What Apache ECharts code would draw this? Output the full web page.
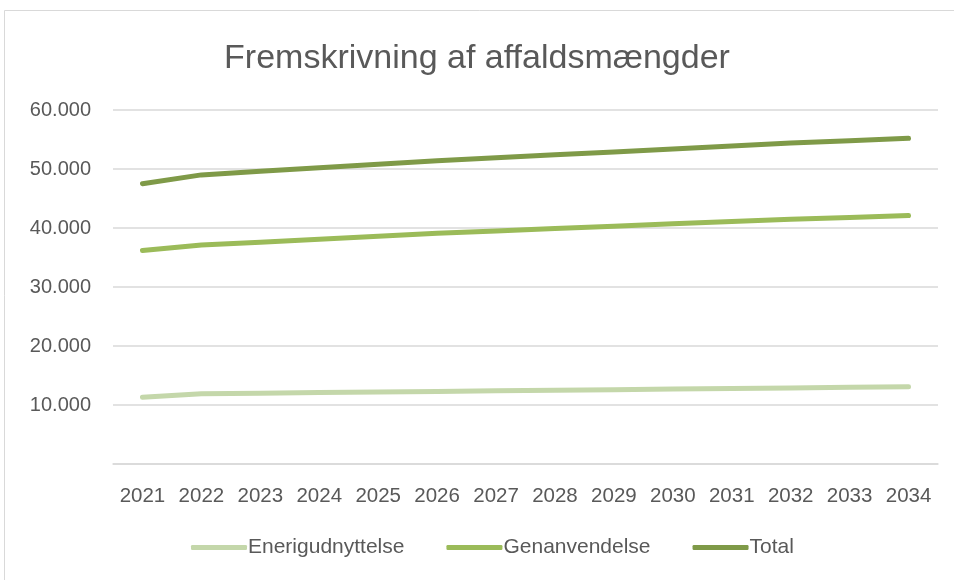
<!DOCTYPE html>
<html>
<head>
<meta charset="utf-8">
<script src="https://cdn.jsdelivr.net/npm/echarts@6/dist/echarts.min.js"></script>
<style>html,body{margin:0;padding:0;background:#fff}#c{width:954px;height:580px}</style>
</head>
<body>
<div id="c"></div>
<script>
const years = ['2021','2022','2023','2024','2025','2026','2027','2028','2029','2030','2031','2032','2033','2034'];
const energi = [11300, 11900, 12000, 12100, 12200, 12300, 12400, 12500, 12600, 12700, 12800, 12900, 13000, 13100];
const genanvendelse = [36200, 37100, 37600, 38100, 38600, 39100, 39500, 39900, 40300, 40700, 41100, 41500, 41800, 42100];
const total = [47500, 49000, 49600, 50200, 50800, 51400, 51900, 52400, 52900, 53400, 53900, 54400, 54800, 55200];
const seriesNames = ['Enerigudnyttelse', 'Genanvendelse', 'Total'];
const colors = ['#c4d7aa', '#9bbb59', '#7f9a48'];
const FONT = '"Liberation Sans", "Open Sans", sans-serif';

const chart = echarts.init(document.getElementById('c'));
const mk = (name, data, color) => ({
  name, type: 'line', data, symbol: 'none', smooth: false,
  lineStyle: { color, width: 5, cap: 'round', join: 'round' },
  itemStyle: { color }
});
chart.setOption({
  animation: false,
  backgroundColor: '#fff',
  textStyle: { fontFamily: FONT },
  graphic: [
    { type: 'line', shape: { x1: 4.5, y1: 10.5, x2: 954, y2: 10.5 }, style: { stroke: '#d9d9d9', lineWidth: 1 } },
    { type: 'line', shape: { x1: 4.5, y1: 10.5, x2: 4.5, y2: 580 }, style: { stroke: '#d9d9d9', lineWidth: 1 } }
  ],
  title: {
    text: 'Fremskrivning af affaldsmængder',
    left: 'center', top: 37,
    textStyle: { fontFamily: FONT, fontSize: 34, fontWeight: 'normal', color: '#595959' }
  },
  legend: {
    bottom: 17, left: 186,
    itemWidth: 56, itemHeight: 5, itemGap: 42,
    icon: 'roundRect',
    textStyle: { fontFamily: FONT, fontSize: 21, color: '#595959', padding: [0, 0, 0, -4] },
    data: seriesNames
  },
  grid: { left: 113, right: 16, top: 110, bottom: 116, containLabel: false },
  xAxis: {
    type: 'category', data: years, boundaryGap: true,
    axisLine: { show: true, lineStyle: { color: '#d9d9d9', width: 1.5 } },
    axisTick: { show: false },
    axisLabel: { fontFamily: FONT, fontSize: 20.5, color: '#595959', margin: 22, interval: 0 }
  },
  yAxis: {
    type: 'value', min: 0, max: 60000, interval: 10000,
    axisLine: { show: false }, axisTick: { show: false },
    splitLine: { lineStyle: { color: '#d9d9d9', width: 1.5 } },
    axisLabel: {
      fontFamily: FONT, fontSize: 20, color: '#595959', margin: 22,
      formatter: v => v === 0 ? '' : (v / 1000).toFixed(0) + '.000'
    }
  },
  series: [
    mk(seriesNames[0], energi, colors[0]),
    mk(seriesNames[1], genanvendelse, colors[1]),
    mk(seriesNames[2], total, colors[2])
  ]
});
</script>
</body>
</html>
